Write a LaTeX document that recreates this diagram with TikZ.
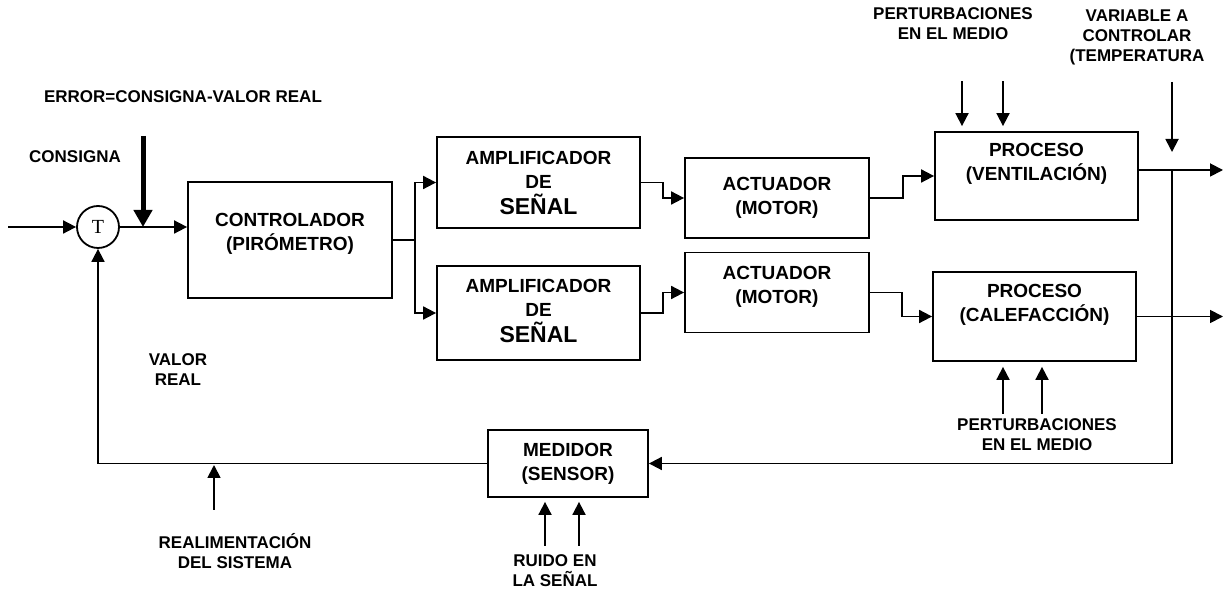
\documentclass[tikz,border=0pt]{standalone}
\usepackage{fontspec}
\setmainfont{Liberation Sans}
\newfontfamily\sumfont{Liberation Serif}
\usetikzlibrary{arrows.meta,positioning,calc}
\definecolor{diagInk}{HTML}{000000}
\newcommand{\boxfont}{\fontsize{9.5}{12}\selectfont\bfseries}
\newcommand{\tagfont}{\fontsize{8.5}{10}\selectfont\bfseries}
\newcommand{\senalword}{{\fontsize{11.5}{13}\selectfont SEÑAL}}

\begin{document}
\begin{tikzpicture}[x=0.5pt,y=-0.5pt,line width=0.9pt,draw=diagInk,
    blockbox/.style={draw,rectangle,inner sep=0pt},
    blocktext/.style={font=\boxfont,align=center,inner sep=0pt,text=diagInk},
    tag/.style={font=\tagfont,align=center,inner sep=0pt,text=diagInk},
    sumnode/.style={draw,circle,minimum size=21pt,inner sep=0pt,font=\sumfont\fontsize{10}{10}\selectfont},
    arr/.style={-{Triangle[length=6.5pt,width=6.5pt]}},
    thickarr/.style={line width=2.5pt,-{Triangle[length=8.5pt,width=9pt]}}]
  \fill[white] (0,0) rectangle (1225,592);
  \useasboundingbox (0,0) rectangle (1225,592);

  % blocks
  \node[sumnode] (sum) at (98,227) {T};
  \node[blockbox,minimum width=102pt,minimum height=58pt] (ctrl) at (290,240) {};
  \node[blocktext] (ctrlT) at ([yshift=3pt]ctrl.center) {CONTROLADOR\\(PIRÓMETRO)};
  \node[blockbox,minimum width=101.5pt,minimum height=45.5pt] (ampA) at (538.5,182.5) {};
  \node[blocktext] (ampAT) at (ampA.center) {AMPLIFICADOR\\DE\\[1pt]\senalword};
  \node[blockbox,minimum width=101.5pt,minimum height=47pt] (ampB) at (538.5,313) {};
  \node[blocktext] (ampBT) at ([yshift=1pt]ampB.center) {AMPLIFICADOR\\DE\\[1pt]\senalword};
  \node[blockbox,minimum width=92pt,minimum height=40pt] (actA) at (777,198) {};
  \node[blocktext] (actAT) at (actA.center) {ACTUADOR\\(MOTOR)};
  \node[blockbox,minimum width=92pt,minimum height=40pt] (actB) at (777,292.5) {};
  \node[blocktext] (actBT) at ([yshift=3pt]actB.center) {ACTUADOR\\(MOTOR)};
  \node[blockbox,minimum width=101.5pt,minimum height=44pt] (procV) at (1036.5,176) {};
  \node[blocktext] (procVT) at ([yshift=6pt]procV.center) {PROCESO\\(VENTILACIÓN)};
  \node[blockbox,minimum width=101.5pt,minimum height=44.5pt] (procC) at (1034.5,316.5) {};
  \node[blocktext] (procCT) at ([yshift=6pt]procC.center) {PROCESO\\(CALEFACCIÓN)};
  \node[blockbox,minimum width=80pt,minimum height=33.5pt] (sensor) at (568,463.5) {};
  \node[blocktext] (sensorT) at (sensor.center) {MEDIDOR\\(SENSOR)};

  % labels
  \node[tag] (errLbl) at (183,97) {ERROR=CONSIGNA-VALOR REAL};
  \node[tag] (consLbl) at (75,157) {CONSIGNA};
  \node[tag] (valLbl) at (178,370) {VALOR\\REAL};
  \node[tag] (fbLbl) at (235,551) {REALIMENTACIÓN\\DEL SISTEMA};
  \node[tag] (noiseLbl) at (555,571) {RUIDO EN\\LA SEÑAL};
  \node[tag] (pertVLbl) at (953,24) {PERTURBACIONES\\EN EL MEDIO};
  \node[tag] (varLbl) at (1137,37) {VARIABLE A\\CONTROLAR\\(TEMPERATURA};
  \node[tag] (pertCLbl) at (1037,435) {PERTURBACIONES\\EN EL MEDIO};

  % free ends
  \coordinate (inL) at (8,227);
  \coordinate (errTop) at (143,136);
  \coordinate[right=11pt of ctrl.east] (split);
  \coordinate (outV) at (1223,170);
  \coordinate (tap) at (1172,170);
  \coordinate (tempTop) at (1172,82);
  \coordinate (fbIn) at (214,510);

  % forward path
  \draw[arr] (inL) -- (sum);
  \draw[arr] (sum) -- (sum.east -| ctrl.west);
  \draw[thickarr] (errTop) -- (errTop |- sum.east);
  \draw (ctrl.east) -- (split);
  \draw[arr] (split) |- (ampA.west);
  \draw[arr] (split) |- (ampB.west);
  \draw[arr] (ampA.east) -- ++(22,0) |- (actA.west);
  \draw[arr] (ampB.east) -- ++(22,0) |- (actB.west);
  \draw[arr] (actA.east) -- ++(33,0) |- (procV.west);
  \draw[arr] (actB.east) -- ++(32,0) |- (procC.west);
  \draw[arr] (procV.east |- outV) -- (outV);
  \draw[arr] (procC.east) -- (procC.east -| outV);

  % feedback
  \draw[arr] (tap) |- (sensor.east);
  \draw[arr] (sensor.west) -| (sum.south);

  % disturbances
  \draw[arr] (tempTop) -- ++(0,70);
  \foreach \dx in {-74.5,-33.5}
    \draw[arr] ($(procV.north)+(\dx,-50)$) -- ++(0,45);
  \foreach \dx in {-31.5,7.5}
    \draw[arr] ($(procC.south)+(\dx,52)$) -- ++(0,-47);
  \foreach \dx in {-23,11}
    \draw[arr] ($(sensor.south)+(\dx,48)$) -- ++(0,-44);
  \draw[arr] (fbIn) -- ++(0,-45);
\end{tikzpicture}
\end{document}
